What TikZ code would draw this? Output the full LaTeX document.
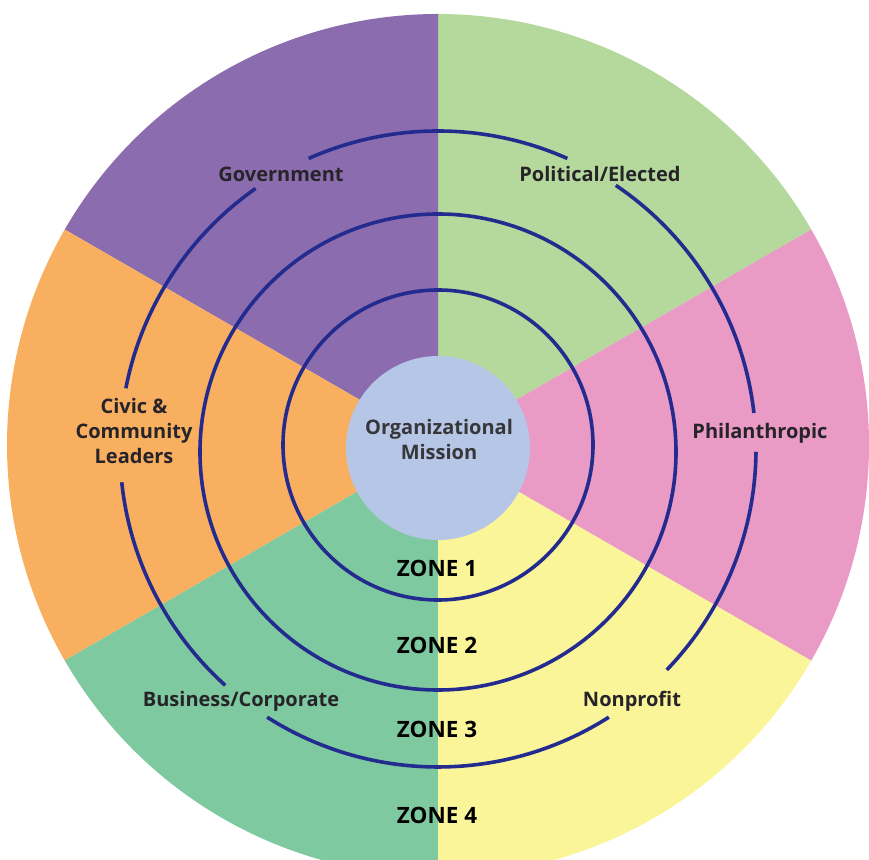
\documentclass[tikz,border=0pt]{standalone}
\usepackage{fontspec}
\setmainfont{Open Sans}
\definecolor{cpurple}{HTML}{8B6DAF}
\definecolor{clgreen}{HTML}{B5D99C}
\definecolor{cpink}{HTML}{E99AC5}
\definecolor{corange}{HTML}{F9AF60}
\definecolor{cteal}{HTML}{7FC9A0}
\definecolor{cyellow}{HTML}{FBF59A}
\definecolor{cmission}{HTML}{B6C6E6}
\definecolor{ringblue}{HTML}{232C8E}
\definecolor{txt}{HTML}{262428}
\begin{document}
\begin{tikzpicture}[x=1pt,y=1pt,
  lab/.style={font=\fontsize{20}{25}\selectfont\bfseries, text=txt, align=center, inner sep=0pt},
  zonelab/.style={font=\fontsize{22.5}{25}\selectfont\bfseries, text=black, inner sep=0pt},
  ring/.style={draw=ringblue, line width=3.6pt},
  sector/.style={draw=none}]
\useasboundingbox (0,0) rectangle (869,859);
\coordinate (C) at (438,414);
\def\R{431}
% sectors
\fill[clgreen] (C) -- ++(30:\R) arc[start angle=30, end angle=90, radius=\R] -- cycle;
\fill[cpurple] (C) -- ++(90:\R) arc[start angle=90, end angle=150, radius=\R] -- cycle;
\fill[corange] (C) -- ++(150:\R) arc[start angle=150, end angle=210, radius=\R] -- cycle;
\fill[cteal] (C) -- ++(210:\R) arc[start angle=210, end angle=270, radius=\R] -- cycle;
\fill[cyellow] (C) -- ++(270:\R) arc[start angle=270, end angle=330, radius=\R] -- cycle;
\fill[cpink] (C) -- ++(-30:\R) arc[start angle=-30, end angle=30, radius=\R] -- cycle;
% rings
\coordinate (C1) at (438,414);
\coordinate (C2) at (438,407);
\coordinate (C3) at (438,410);
\draw[ring] (C1) circle[radius=155];
\draw[ring] (C2) circle[radius=238];
\draw[ring] (C3) ++(6.5:318) arc[start angle=6.5, end angle=56, radius=318];
\draw[ring] (C3) ++(66:318) arc[start angle=66, end angle=114, radius=318];
\draw[ring] (C3) ++(125:318) arc[start angle=125, end angle=169, radius=318];
\draw[ring] (C3) ++(186:318) arc[start angle=186, end angle=228, radius=318];
\draw[ring] (C3) ++(237.5:318) arc[start angle=237.5, end angle=302.5, radius=318];
\draw[ring] (C3) ++(316:318) arc[start angle=316, end angle=359.5, radius=318];
% mission
\node[circle, fill=cmission, minimum size=184pt, inner sep=0pt] (mission) at (438,411) {};
\node[lab, text=txt!92!white] (missiontext) at (439,419) {Organizational\\Mission};
% labels
\node[lab] (gov) at (281,685) {Government};
\node[lab] (pol) at (600,685) {Political/Elected};
\node[lab] (civ) at (134,428) {Civic \&\\Community\\Leaders};
\node[lab] (phi) at (760,426) {Philanthropic};
\node[lab] (bus) at (241,158) {Business/Corporate};
\node[lab] (non) at (632,158) {Nonprofit};
% zones
\node[zonelab] (z1) at (437,291) {ZONE 1};
\node[zonelab] (z2) at (437,214) {ZONE 2};
\node[zonelab] (z3) at (437,130) {ZONE 3};
\node[zonelab] (z4) at (437,44) {ZONE 4};
\end{tikzpicture}
\end{document}
